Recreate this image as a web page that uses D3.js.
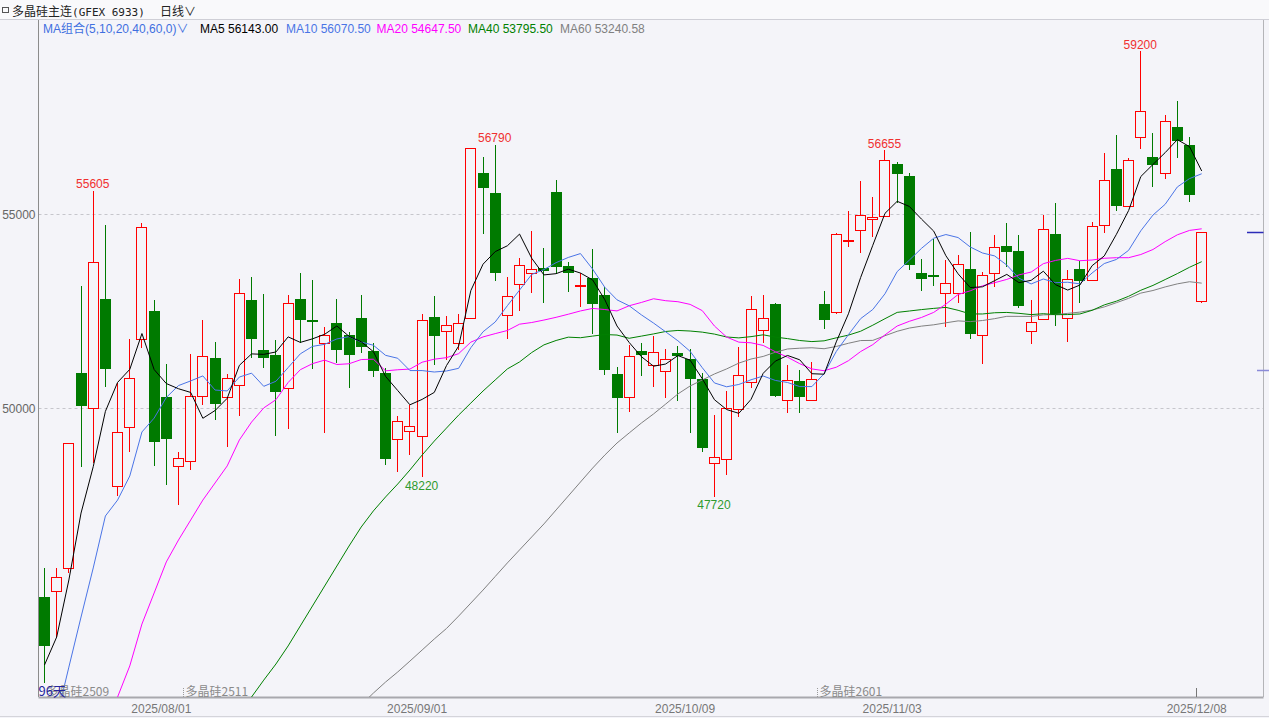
<!DOCTYPE html>
<html><head><meta charset="utf-8">
<script src="https://cdn.jsdelivr.net/npm/d3@7"></script>
<style>
html,body{margin:0;padding:0;background:#f4f4f9;}
svg{display:block;}
text{font-family:"Liberation Sans",Arial,"Noto Sans CJK SC",sans-serif;}
</style>
</head><body>
<svg id="chart" width="1269" height="718"></svg>
<script>
// ---------------- DATA ----------------
const dates = [
"2025/07/18","2025/07/21","2025/07/22","2025/07/23","2025/07/24","2025/07/25","2025/07/28","2025/07/29","2025/07/30","2025/07/31",
"2025/08/01","2025/08/04","2025/08/05","2025/08/06","2025/08/07","2025/08/08","2025/08/11","2025/08/12","2025/08/13","2025/08/14","2025/08/15","2025/08/18","2025/08/19","2025/08/20","2025/08/21","2025/08/22","2025/08/25","2025/08/26","2025/08/27","2025/08/28","2025/08/29",
"2025/09/01","2025/09/02","2025/09/03","2025/09/04","2025/09/05","2025/09/08","2025/09/09","2025/09/10","2025/09/11","2025/09/12","2025/09/15","2025/09/16","2025/09/17","2025/09/18","2025/09/19","2025/09/22","2025/09/23","2025/09/24","2025/09/25","2025/09/26","2025/09/29","2025/09/30",
"2025/10/09","2025/10/10","2025/10/13","2025/10/14","2025/10/15","2025/10/16","2025/10/17","2025/10/20","2025/10/21","2025/10/22","2025/10/23","2025/10/24","2025/10/27","2025/10/28","2025/10/29","2025/10/30","2025/10/31",
"2025/11/03","2025/11/04","2025/11/05","2025/11/06","2025/11/07","2025/11/10","2025/11/11","2025/11/12","2025/11/13","2025/11/14","2025/11/17","2025/11/18","2025/11/19","2025/11/20","2025/11/21","2025/11/24","2025/11/25","2025/11/26","2025/11/27","2025/11/28",
"2025/12/01","2025/12/02","2025/12/03","2025/12/04","2025/12/05","2025/12/08"];

const opens = [45145,45300,45875,50915,50015,52815,48000,49510,51785,52510,
50300,48515,48640,50315,51290,50285,50595,52790,51500,51375,
50515,52810,52265,51690,52190,51890,52315,51475,50900,49215,
49415,49285,52355,52000,51675,52320,56055,55540,52395,53195,
53500,53615,55580,53665,53165,53360,52920,50890,50300,51475,
51105,50960,51415,51265,50745,48580,48685,49975,50670,52020,
52690,50215,50705,50215,52680,52490,54310,54590,54880,54950,
56290,55985,53480,53445,52980,52980,53590,51890,53480,54185,
54055,51990,52295,54490,52320,53580,53300,54715,56165,55205,
56985,56475,56055,57250,56780,52775];

const highs = [45875,45875,49115,53150,55605,54725,50650,51780,54770,52790,
51135,48880,51400,52275,51700,50885,53340,53385,52945,51760,
52920,53480,53305,52105,52810,51975,52920,51675,51030,49800,
50085,52430,52895,52380,52420,56720,56470,56790,53390,53880,
54570,54125,55885,53780,53490,54100,53135,51070,51630,51675,
51865,51520,51605,51535,50900,49825,50455,51570,52900,52920,
52715,51115,50985,51200,53025,54525,55085,55860,55455,56655,
56355,56070,53850,54355,53820,53950,54550,53520,54460,54770,
54460,52790,54980,55285,53565,53785,54790,56570,57045,56445,
59200,57090,57550,57910,56985,54535];

const lows = [42930,44105,45755,48495,48580,50555,47740,48880,51545,48515,
48025,47510,48410,50085,49700,49010,49800,51290,51045,49285,
49460,51690,51005,49370,51160,50515,51415,50815,48540,48350,
48795,48220,51110,51245,51500,52300,54490,53290,51780,52510,
52980,52705,53460,52990,52605,51915,50860,49370,49910,50840,
50540,50260,50195,49355,48880,47720,48280,49785,50515,51675,
50300,49870,49870,50190,52035,52420,54165,53995,54425,54930,
55285,53565,53030,53160,52085,52720,51780,51135,53135,53650,
52575,51650,52275,52130,51700,52720,53280,54525,55095,55190,
56675,55710,55900,56460,55310,52720];

const closes = [43875,45660,49115,50060,53765,51005,49395,50790,54680,49125,
49200,48725,50315,51350,50120,50775,52980,51785,51290,50430,
52720,52270,52240,51880,51500,51385,51570,50970,48685,49675,
49550,52270,51870,52140,52190,56700,55670,53490,52895,53695,
53580,53530,53650,53480,53190,52690,50985,50260,51355,51365,
51460,51265,51350,50765,48970,48755,50000,50860,52560,52335,
50325,50730,50300,50765,52275,54490,54350,54975,54920,56390,
56040,53685,53340,53375,53220,53710,51915,53435,54165,54030,
52645,52215,54615,52430,53330,53290,54710,55875,55220,56390,
57670,56270,57395,56895,55490,54535];

// Moving-average values for bars whose window reaches before the first visible bar
const ma5LeadStart = 0;
const ma5Lead = [43385,44105,45575,47300];
const ma10LeadStart = 0;
const ma10Lead = [40755,42020,43330,44620,45885,47225,47635,48255,49390];
const ma20LeadStart = 5;
const ma20Lead = [41760,42560,43360,44440,45240,46040,46605,47120,47635,48075,48515,49185,49645,50010];
const ma40LeadStart = 16;
const ma40Lead = [42095,42560,42995,43410,43875,44390,44905,45420,45935,46450,46940,47355,47715,48050,48410,48795,49155,49490,49825,50135,50445,50730,51015];
const ma60LeadStart = 26;
const ma60Lead = [42355,42660,42945,43205,43485,43770,44055,44325,44645,44980,45315,45665,46015,46350,46685,47020,47380,47740,48100,48460,48795,49105,49365,49620,49855,50110,50370,50575,50730,50885,51015,51165,51270];

const maPeriods = [5,10,20,40,60];
const maNames = ["MA5","MA10","MA20","MA40","MA60"];
const maHeaderValues = ["56143.00","56070.50","54647.50","53795.50","53240.58"];

const xTickLabels = ["2025/08/01","2025/09/01","2025/10/09","2025/11/03","2025/12/08"];
const yTickValues = [50000,55000];

const highMarkDates = ["2025/07/24","2025/09/09","2025/10/31","2025/12/01"];
const lowMarkDates = ["2025/09/01","2025/10/13"];

const contractLabels = ["多晶硅2509","多晶硅2511","多晶硅2601"];
const contractStartDates = ["2025/07/18","2025/08/05","2025/10/24"];

const rightMarkerPrices = [54535, 50985];

// ---------------- CHART ----------------
const W = 1269, H = 718;
const L = 38.5, R = 1263.5, T = 20, B = 697;
const BG = "#f4f4f9";
const UP = "#ff0000", DOWN = "#007a00";
const maColors = ["#000000","#4a74e6","#ff00ff","#008000","#808080"];

const svg = d3.select("#chart");
svg.append("rect").attr("width",W).attr("height",H).attr("fill",BG);
svg.append("rect").attr("width",W).attr("height",19.5).attr("fill","#f9f9fb");
svg.append("line").attr("x1",0).attr("x2",W).attr("y1",19.5).attr("y2",19.5).attr("stroke","#cfcfd6");

const x = d3.scalePoint().domain(dates).range([44, 1201.2]);
const y = d3.scaleLinear().domain([50000,55000]).range([408.3,214.3]);

svg.append("defs").append("clipPath").attr("id","clip")
  .append("rect").attr("x",L).attr("y",T).attr("width",R-L).attr("height",B-T);

// grid
svg.append("g").selectAll("line").data(yTickValues).join("line")
  .attr("x1",L).attr("x2",R)
  .attr("y1",d=>Math.round(y(d))+0.5).attr("y2",d=>Math.round(y(d))+0.5)
  .attr("stroke","#c6c6cc").attr("stroke-dasharray","3,3");

// y axis
const yAxis = d3.axisLeft(y).tickValues(yTickValues).tickSize(0).tickPadding(3).tickFormat(d3.format("d"));
const ya = svg.append("g").attr("transform",`translate(${L},0)`).call(yAxis);
ya.select(".domain").remove();
ya.selectAll("text").attr("font-size",12).attr("fill","#666").style("font-family","Liberation Sans, Arial");

// x axis
const xAxis = d3.axisBottom(x).tickValues(xTickLabels).tickSize(0).tickPadding(7);
const xa = svg.append("g").attr("transform",`translate(0,${B})`).call(xAxis);
xa.select(".domain").remove();
xa.selectAll("text").attr("font-size",12).attr("fill","#777").attr("dx",-5).style("font-family","Liberation Sans, Arial");

// frame
svg.append("line").attr("x1",L).attr("x2",L).attr("y1",T).attr("y2",B).attr("stroke","#8c8c8c");
svg.append("line").attr("x1",R).attr("x2",R).attr("y1",T).attr("y2",B).attr("stroke","#b4b4b8");
svg.append("line").attr("x1",L).attr("x2",R).attr("y1",B+0.5).attr("y2",B+0.5).attr("stroke","#a8a8ae").attr("stroke-width",2);
svg.append("line").attr("x1",0).attr("x2",W).attr("y1",716.5).attr("y2",716.5).attr("stroke","#d4d4da");

// tick mark for last date label
const lastTick = xTickLabels[xTickLabels.length-1];
svg.append("line").attr("x1",Math.round(x(lastTick))-4.5).attr("x2",Math.round(x(lastTick))-4.5)
  .attr("y1",688).attr("y2",B).attr("stroke","#777");

const plot = svg.append("g").attr("clip-path","url(#clip)");

// candles
const bars = dates.map((d,i)=>({d, o:opens[i], h:highs[i], l:lows[i], c:closes[i]}));
const cg = plot.append("g");
bars.forEach(b=>{
  const cx = Math.round(x(b.d));
  const up = b.c >= b.o;
  const yh = Math.round(y(b.h)), yl = Math.round(y(b.l));
  if (up) {
    let top = Math.round(y(b.c)), bot = Math.round(y(b.o));
    if (bot - top < 1) bot = top + 1;
    cg.append("line").attr("x1",cx+0.5).attr("x2",cx+0.5).attr("y1",yh).attr("y2",top+0.5).attr("stroke",UP);
    cg.append("line").attr("x1",cx+0.5).attr("x2",cx+0.5).attr("y1",bot+0.5).attr("y2",yl).attr("stroke",UP);
    cg.append("rect").attr("x",cx-4.5).attr("y",top+0.5).attr("width",10).attr("height",bot-top)
      .attr("fill",BG).attr("stroke",UP);
  } else {
    let top = Math.round(y(b.o)), bot = Math.round(y(b.c));
    if (bot - top < 2) bot = top + 2;
    cg.append("line").attr("x1",cx+0.5).attr("x2",cx+0.5).attr("y1",yh).attr("y2",yl).attr("stroke",DOWN);
    cg.append("rect").attr("x",cx-5).attr("y",top).attr("width",11).attr("height",bot-top).attr("fill",DOWN);
  }
});

// moving averages
const leads = [[ma5Lead,ma5LeadStart],[ma10Lead,ma10LeadStart],[ma20Lead,ma20LeadStart],[ma40Lead,ma40LeadStart],[ma60Lead,ma60LeadStart]];
function movingAvg(period, lead, start){
  return closes.map((c,i)=>{
    if (i >= period-1) return d3.mean(closes.slice(i-period+1,i+1));
    const k = i - start;
    return (k>=0 && k<lead.length) ? lead[k] : null;
  });
}
const line = d3.line().defined(v=>v!=null).x((v,i)=>x(dates[i])+0.5).y(v=>y(v));
[4,3,2,1,0].forEach(k=>{
  const vals = movingAvg(maPeriods[k], leads[k][0], leads[k][1]);
  plot.append("path").attr("d",line(vals)).attr("fill","none").attr("stroke",maColors[k]).attr("stroke-width",1);
});

// high / low labels
highMarkDates.forEach(d=>{
  const i = dates.indexOf(d);
  svg.append("text").attr("x",x(d)).attr("y",y(highs[i])-2.5).attr("text-anchor","middle")
    .attr("font-size",12).attr("fill","#f03030").text(highs[i]);
});
lowMarkDates.forEach(d=>{
  const i = dates.indexOf(d);
  svg.append("text").attr("x",x(d)).attr("y",y(lows[i])+12.5).attr("text-anchor","middle")
    .attr("font-size",12).attr("fill","#2e9a2e").text(lows[i]);
});

// contract labels
contractLabels.forEach((lab,k)=>{
  const mx = Math.round(x(contractStartDates[k]))-6.5;
  if (k>0) svg.append("line").attr("x1",mx).attr("x2",mx).attr("y1",688).attr("y2",B)
    .attr("stroke","#999").attr("stroke-dasharray","1,1");
  svg.append("text").attr("x",Math.max(mx+2, L+8)).attr("y",695.5).attr("font-size",12)
    .attr("fill","#8a8a8a").style("font-family","Noto Sans CJK SC").text(lab);
});
svg.append("text").attr("x",L).attr("y",695.5).attr("font-size",13).attr("fill","#23239c")
  .style("font-family","Noto Sans CJK SC").text(dates.length+"天");

// right side price markers
svg.append("line").attr("x1",1247).attr("x2",R).attr("y1",Math.round(y(rightMarkerPrices[0]))+0.5)
  .attr("y2",Math.round(y(rightMarkerPrices[0]))+0.5).attr("stroke","#2b2bb8").attr("stroke-width",1.5);
svg.append("line").attr("x1",1257).attr("x2",W).attr("y1",Math.round(y(rightMarkerPrices[1]))+0.5)
  .attr("y2",Math.round(y(rightMarkerPrices[1]))+0.5).attr("stroke","#8a8ad8").attr("stroke-width",1.5);

// header: title
svg.append("rect").attr("x",2.5).attr("y",7.5).attr("width",6).attr("height",5).attr("fill","none").attr("stroke","#555");
const title = svg.append("text").attr("x",12).attr("y",15.5).attr("font-size",12).attr("fill","#222");
title.append("tspan").style("font-family","Noto Sans CJK SC").text("多晶硅主连");
title.append("tspan").style("font-family","DejaVu Sans Mono").attr("font-size",11).text("(GFEX 6933)");
svg.append("text").attr("x",160).attr("y",15.5).attr("font-size",12).attr("fill","#222")
  .style("font-family","Noto Sans CJK SC").text("日线∨");

// header: MA legend
const leg = svg.append("text").attr("x",43).attr("y",32.5).attr("font-size",12);
leg.append("tspan").attr("fill","#3f6fe0").text("MA组合(" + maPeriods.join(",") + ",0)∨");
const legX = [200,286,376.5,468,560];
maNames.forEach((n,k)=>{
  svg.append("text").attr("x",legX[k]).attr("y",32.5).attr("font-size",12).attr("fill",maColors[k])
    .text(n+" "+maHeaderValues[k]);
});
</script>
</body></html>
